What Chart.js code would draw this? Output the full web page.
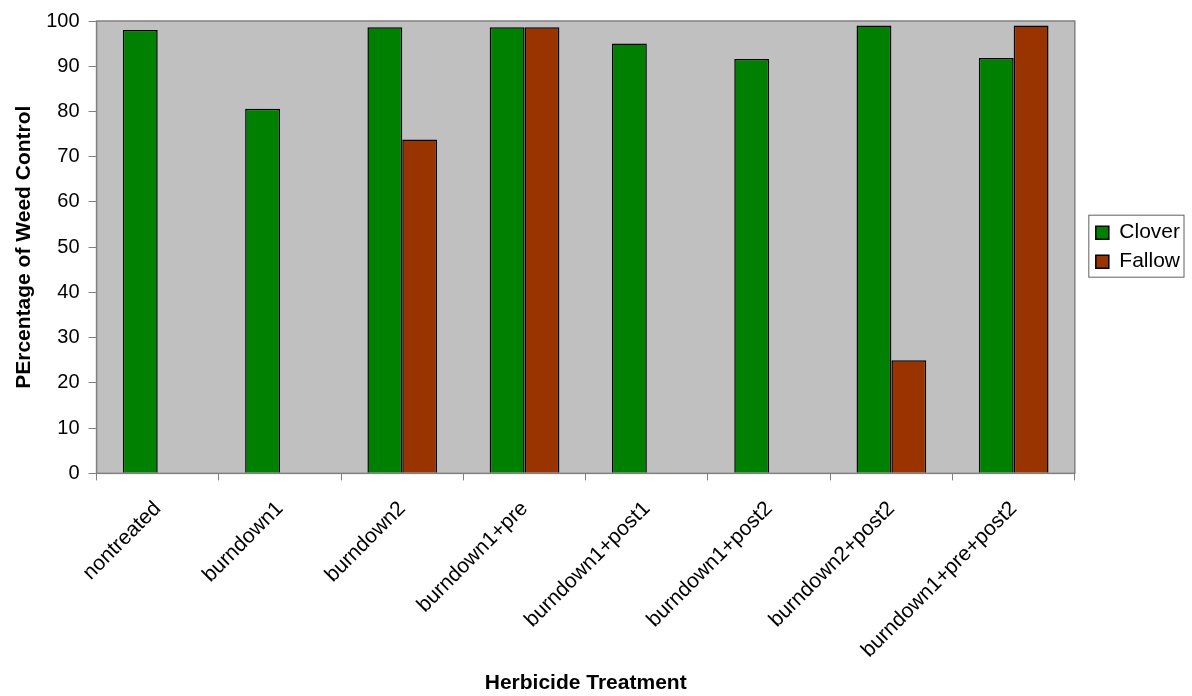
<!DOCTYPE html>
<html>
<head>
<meta charset="utf-8">
<script src="https://cdn.jsdelivr.net/npm/chart.js@4/dist/chart.umd.min.js"></script>
<style>
  html, body { margin: 0; padding: 0; background: #fff; }
  #wrap { width: 1192px; height: 696px; }
</style>
</head>
<body>
<div id="wrap"><canvas id="chart" width="1192" height="696"></canvas></div>
<script>
'use strict'

const categories = [
  'nontreated', 'burndown1', 'burndown2', 'burndown1+pre',
  'burndown1+post1', 'burndown1+post2', 'burndown2+post2', 'burndown1+pre+post2',
]
const clover = [98, 80.6, 98.6, 98.6, 95, 91.6, 99, 91.8]
const fallow = [null, null, 73.8, 98.6, null, null, 25, 99]
const yTicks = [0, 10, 20, 30, 40, 50, 60, 70, 80, 90, 100]

const font = 'Liberation Sans, Arial, sans-serif'
const legendShift = 13

// grey plot area with a border, and a framed legend like the Excel original
const frame = {
  id: 'frame',
  afterLayout(chart) {
    // legend sits a bit off the plot, centred on the plot height
    const lg = chart.legend
    const a = chart.chartArea
    lg.left += legendShift
    lg.right += legendShift
    lg.top = a.top
    lg.bottom = a.bottom
    lg.height = a.bottom - a.top
  },
  beforeDatasetsDraw(chart) {
    const { ctx, chartArea: a } = chart
    ctx.save()
    ctx.fillStyle = '#c0c0c0'
    ctx.fillRect(a.left, a.top, a.right - a.left, a.bottom - a.top)
    ctx.restore()
  },
  afterDraw(chart) {
    const { ctx, chartArea: a } = chart
    ctx.save()
    ctx.strokeStyle = '#808080'
    ctx.lineWidth = 1.5
    ctx.strokeRect(a.left, a.top, a.right - a.left, a.bottom - a.top)

    const lg = chart.legend
    const p = lg.options.labels.padding
    const col = lg.columnSizes && lg.columnSizes[0]
    if (col) {
      const x0 = lg.left + p
      const y0 = (lg.top + p + lg.bottom - col.height) / 2
      const h = col.height - p
      ctx.strokeStyle = '#606060'
      ctx.lineWidth = 1
      ctx.strokeRect(x0 - 7, y0 - 7, col.width + 11, h + 12)
    }
    ctx.restore()
  },
}

const data = {
  labels: categories,
  datasets: [
    {
      label: 'Clover',
      data: clover,
      backgroundColor: '#008000',
      borderColor: '#000',
      borderWidth: 1.5,
    },
    {
      label: 'Fallow',
      data: fallow,
      backgroundColor: '#993300',
      borderColor: '#000',
      borderWidth: 1.5,
    },
  ],
}

const config = {
  type: 'bar',
  data: data,
  plugins: [frame],
  options: {
    responsive: false,
    animation: false,
    devicePixelRatio: 1,
    categoryPercentage: 0.57,
    barPercentage: 1.0,
    layout: { padding: { top: 9, right: 15, bottom: 0, left: 12 } },
    plugins: {
      tooltip: { enabled: false },
      legend: {
        position: 'right',
        labels: {
          color: '#000',
          font: { family: font, size: 21 },
          boxWidth: 13,
          boxHeight: 13,
          padding: 8,
        },
      },
    },
    scales: {
      x: {
        afterFit(axis) {
          // rotated labels reserve more room than they use
          axis.height -= 22
        },
        grid: {
          display: true,
          drawOnChartArea: false,
          drawTicks: true,
          tickLength: 7,
          color: '#808080',
        },
        border: { display: false },
        ticks: {
          color: '#000',
          font: { family: font, size: 21 },
          maxRotation: 45,
          minRotation: 45,
          padding: 16,
        },
        title: {
          display: true,
          text: 'Herbicide Treatment',
          color: '#000',
          font: { family: font, size: 21, weight: 'bold' },
          padding: { top: 14, bottom: 0 },
        },
      },
      y: {
        min: 0,
        max: 100,
        afterBuildTicks(axis) {
          axis.ticks = yTicks.map(v => ({ value: v }))
        },
        grid: {
          display: true,
          drawOnChartArea: false,
          drawTicks: true,
          tickLength: 8,
          color: '#808080',
        },
        border: { display: false },
        ticks: {
          color: '#000',
          font: { family: font, size: 20 },
          padding: 9,
        },
        title: {
          display: true,
          text: 'PErcentage of Weed Control',
          color: '#000',
          font: { family: font, size: 21, weight: 'bold' },
          padding: { top: 0, bottom: 0 },
        },
      },
    },
  },
}

const myChart = new Chart(document.getElementById('chart'), config)
</script>
</body>
</html>
